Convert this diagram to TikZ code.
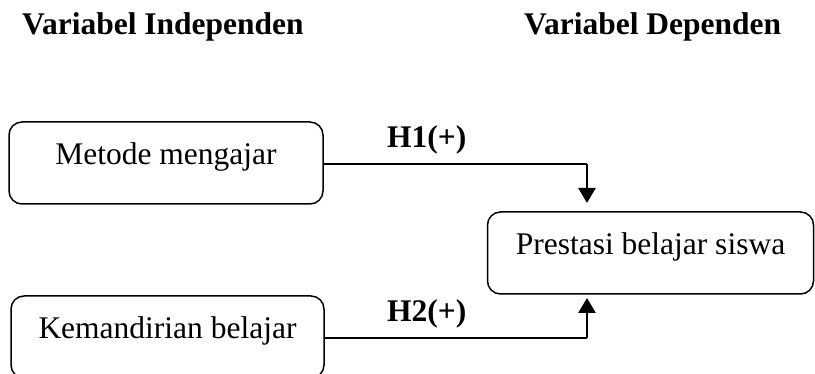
\documentclass[tikz,border=0pt]{standalone}
\usepackage{fontspec}
\setmainfont{Liberation Serif}
\usetikzlibrary{arrows.meta}
\begin{document}
\begin{tikzpicture}[x=1pt,y=-1pt,
  box/.style={draw,line width=1.5pt,rounded corners=13pt,inner sep=0pt,
    text height=24pt,text depth=20pt,font=\fontsize{31.5}{36}\selectfont},
  head/.style={anchor=base west,inner sep=0pt,font=\fontsize{31.5}{36}\selectfont\bfseries},
  hyp/.style={anchor=base west,inner sep=0pt,font=\fontsize{31.5}{36}\selectfont\bfseries},
  hline/.style={line width=1.7pt},
  vline/.style={line width=2.6pt,-{Triangle[width=17pt,length=15pt]}}]
\useasboundingbox (0,0) rectangle (815,374);
\node[head] (hi) at (22,35) {Variabel Independen};
\node[head] (hd) at (524,35) {Variabel Dependen};
\node[box,minimum width=314pt,minimum height=82pt] (m) at (166,163) {Metode mengajar};
\node[box,minimum width=313pt,minimum height=82pt] (k) at (167.5,337) {Kemandirian belajar};
\node[box,minimum width=326pt,minimum height=82pt] (p) at (650.5,253) {Prestasi belajar siswa};
\coordinate (b1) at (587,164);
\coordinate (t1) at (587,203);
\coordinate (b2) at (587,338);
\coordinate (t2) at (587,298);
\draw[hline] (m.east |- b1) -- (b1);
\draw[vline] (b1) -- (t1);
\draw[hline] (k.east |- b2) -- (b2);
\draw[vline] (b2) -- (t2);
\node[hyp] (h1) at (387,148) {H1(+)};
\node[hyp] (h2) at (387,322) {H2(+)};
\end{tikzpicture}
\end{document}
